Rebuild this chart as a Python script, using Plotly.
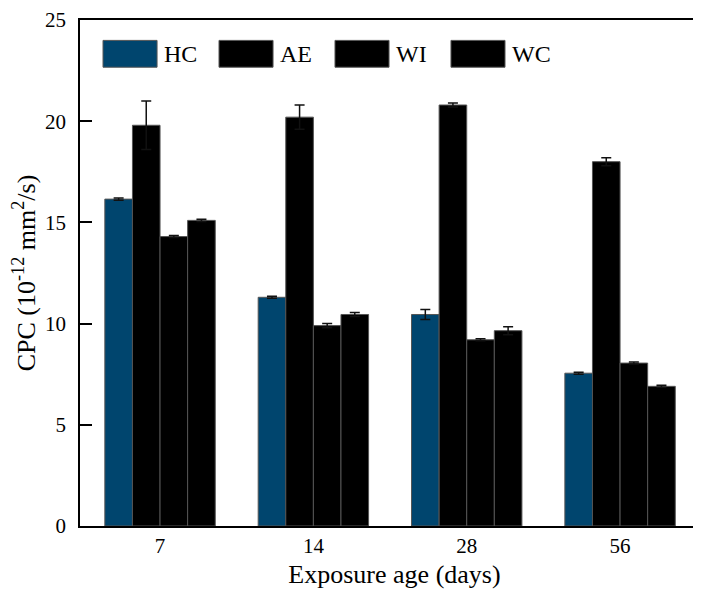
import plotly.graph_objects as go

categories = ["7", "14", "28", "56"]
series_names = ["HC", "AE", "WI", "WC"]
hc = [16.15, 11.3, 10.45, 7.55]
ae = [19.8, 20.2, 20.8, 18.0]
wi = [14.3, 9.9, 9.2, 8.05]
wc = [15.1, 10.45, 9.65, 6.9]
hc_err = [0.05, 0.05, 0.25, 0.05]
ae_err = [1.2, 0.6, 0.1, 0.2]
wi_err = [0.05, 0.1, 0.05, 0.05]
wc_err = [0.05, 0.1, 0.2, 0.05]
y_ticks = [0, 5, 10, 15, 20, 25]

values = [hc, ae, wi, wc]
errors = [hc_err, ae_err, wi_err, wc_err]
colors = ["#00456e", "#000000", "#000000", "#000000"]
font = "Liberation Serif"

fig = go.Figure()
for name, v, e, c in zip(series_names, values, errors, colors):
    fig.add_trace(go.Bar(
        x=categories, y=v, name=name,
        marker=dict(color=c, line=dict(color="#555555", width=1)),
        error_y=dict(type="data", array=e, visible=True, color="#111111",
                     thickness=1.5, width=5),
        showlegend=False,
    ))

# custom legend (large boxes)
x0 = 0.0366
step = 0.1844
for i, (name, c) in enumerate(zip(series_names, colors)):
    xs = x0 + i * step
    fig.add_shape(type="rect", xref="paper", yref="paper",
                  x0=xs, x1=xs + 0.0859, y0=0.9067, y1=0.9597,
                  fillcolor=c, line=dict(color="#555555", width=1))
    fig.add_annotation(x=xs + 0.0935, y=0.933, xref="paper", yref="paper",
                       text=name, showarrow=False, xanchor="left", yanchor="middle",
                       font=dict(family=font, size=24, color="black"))

fig.update_layout(
    width=701, height=595,
    margin=dict(l=72, r=0, t=12, b=77),
    paper_bgcolor="white", plot_bgcolor="white",
    barmode="group", bargap=0.28, bargroupgap=0,
    font=dict(family=font, size=21, color="black"),
    xaxis=dict(
        type="category", range=[-0.522, 3.58], automargin=False,
        showline=True, linecolor="black", linewidth=1.5, mirror=True,
        ticks="", showgrid=False,
        title=dict(text="Exposure age (days)", font=dict(family=font, size=26), standoff=8),
        tickfont=dict(family=font, size=21),
    ),
    yaxis=dict(
        range=[0, 25], tickvals=y_ticks, automargin=False,
        showline=True, linecolor="black", linewidth=1.5, mirror=False,
        ticks="inside", ticklen=12, tickwidth=1.5, tickcolor="black",
        ticklabelstandoff=8, ticklabeloverflow="allow",
        showgrid=False, zeroline=False,
        title=dict(text="CPC (10<sup>-12</sup> mm<sup>2</sup>/s)", font=dict(family=font, size=26), standoff=8),
        tickfont=dict(family=font, size=21),
    ),
)

fig.write_html("out.html")
